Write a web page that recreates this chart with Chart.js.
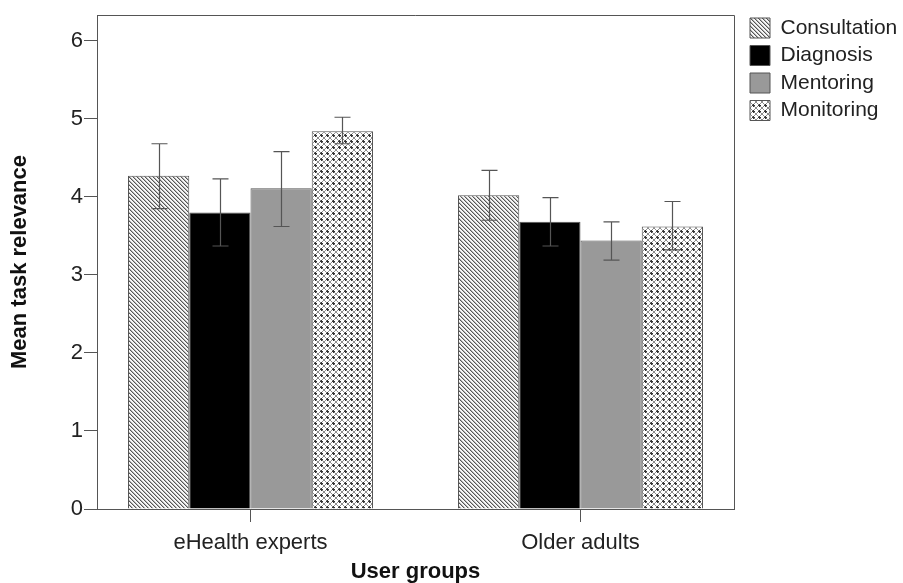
<!DOCTYPE html>
<html>
<head>
<meta charset="utf-8">
<script src="https://cdn.jsdelivr.net/npm/chart.js@4"></script>
<style>
  html, body { margin: 0; padding: 0; background: #fff; }
  #wrap { width: 903px; height: 583px; }
</style>
</head>
<body>
<div id="wrap"><canvas id="taskChart"></canvas></div>
<script>
// Groups on the x axis and their positions on the linear scale
const groups = ['eHealth experts', 'Older adults'];
const groupPos = [1, 2];
const tasks = ['Consultation', 'Diagnosis', 'Mentoring', 'Monitoring'];

// Means
const consultation = [4.27, 4.02];
const diagnosis = [3.80, 3.68];
const mentoring = [4.11, 3.44];
const monitoring = [4.84, 3.62];

// Error bar ends
const consultationLow = [3.85, 3.70];
const consultationHigh = [4.68, 4.34];
const diagnosisLow = [3.37, 3.37];
const diagnosisHigh = [4.23, 3.99];
const mentoringLow = [3.62, 3.19];
const mentoringHigh = [4.58, 3.68];
const monitoringLow = [4.68, 3.32];
const monitoringHigh = [5.02, 3.94];

const yTicks = [0, 1, 2, 3, 4, 5, 6];

Chart.defaults.font.family = '"Liberation Sans", Arial, sans-serif';

// Hatch patterns, drawn pixel by pixel so they stay crisp
function diagonalPattern() {
  const c = document.createElement('canvas');
  c.width = 4; c.height = 4;
  const g = c.getContext('2d');
  g.fillStyle = '#f6f6f6';
  g.fillRect(0, 0, 4, 4);
  for (let i = 0; i < 4; i++) {
    g.fillStyle = '#555555';
    g.fillRect(i, i, 1, 1);
    g.fillStyle = '#b4b4b4';
    g.fillRect((i + 1) % 4, i, 1, 1);
  }
  return g.createPattern(c, 'repeat');
}

function latticePattern() {
  const c = document.createElement('canvas');
  c.width = 6; c.height = 6;
  const g = c.getContext('2d');
  g.fillStyle = '#ffffff';
  g.fillRect(0, 0, 6, 6);
  g.fillStyle = '#8c8c8c';
  for (let i = 0; i < 6; i++) {
    g.fillRect(i, i, 1, 1);
    g.fillRect(5 - i, i, 1, 1);
  }
  g.fillStyle = '#333333';
  g.fillRect(2, 3, 3, 1);
  g.fillRect(3, 2, 1, 3);
  return g.createPattern(c, 'repeat');
}

const fills = [diagonalPattern(), '#000000', '#999999', latticePattern()];
const means = [consultation, diagnosis, mentoring, monitoring];
const lows = [consultationLow, diagnosisLow, mentoringLow, monitoringLow];
const highs = [consultationHigh, diagnosisHigh, mentoringHigh, monitoringHigh];

const errorBars = {
  id: 'errorBars',
  afterDatasetsDraw(chart) {
    const y = chart.scales.y;
    const ctx = chart.ctx;
    ctx.save();
    ctx.strokeStyle = '#555';
    ctx.lineWidth = 1.2;
    chart.data.datasets.forEach((ds, i) => {
      const meta = chart.getDatasetMeta(i);
      meta.data.forEach((bar, j) => {
        const x = Math.round(bar.x) + 0.5;
        const top = y.getPixelForValue(highs[i][j]);
        const bottom = y.getPixelForValue(lows[i][j]);
        ctx.beginPath();
        ctx.moveTo(x, top); ctx.lineTo(x, bottom);
        ctx.moveTo(x - 8, top); ctx.lineTo(x + 8, top);
        ctx.moveTo(x - 8, bottom); ctx.lineTo(x + 8, bottom);
        ctx.stroke();
      });
    });
    ctx.restore();
  }
};

const frame = {
  id: 'frame',
  afterDraw(chart) {
    const a = chart.chartArea;
    const ctx = chart.ctx;
    ctx.save();
    ctx.strokeStyle = '#555';
    ctx.lineWidth = 1;
    ctx.beginPath();
    ctx.moveTo(Math.round(a.left), Math.round(a.top) + 0.5);
    ctx.lineTo(Math.round(a.right) + 0.5, Math.round(a.top) + 0.5);
    ctx.lineTo(Math.round(a.right) + 0.5, Math.round(a.bottom));
    ctx.stroke();
    ctx.restore();
  }
};

new Chart(document.getElementById('taskChart'), {
  type: 'bar',
  data: {
    datasets: tasks.map((name, i) => ({
      label: name,
      data: groupPos.map((p, j) => ({ x: p, y: means[i][j] })),
      backgroundColor: fills[i],
      borderColor: '#555',
      borderWidth: 1,
      xAxisID: 'x',
      yAxisID: 'y'
    }))
  },
  options: {
    responsive: true,
    maintainAspectRatio: false,
    animation: false,
    categoryPercentage: 0.7424,
    barPercentage: 1,
    layout: { padding: { top: 11, right: 0, bottom: 0, left: 0 } },
    scales: {
      x: {
        type: 'linear',
        offset: false,
        min: 0.53485,
        max: 2.46515,
        afterBuildTicks: (s) => { s.ticks = groupPos.map((v) => ({ value: v })); },
        afterFit: (s) => { s.height = 74; },
        ticks: {
          callback: (v) => groups[groupPos.indexOf(v)],
          font: { size: 22 },
          color: '#222',
          padding: 8,
          maxRotation: 0
        },
        grid: { drawOnChartArea: false, offset: false, tickLength: 13, color: '#555' },
        border: { color: '#555' },
        title: {
          display: true,
          text: 'User groups',
          font: { size: 22, weight: 'bold' },
          color: '#111',
          padding: { top: 0, bottom: -2 }
        }
      },
      y: {
        min: 0,
        max: 6.33,
        afterBuildTicks: (s) => { s.ticks = yTicks.map((v) => ({ value: v })); },
        afterFit: (s) => { s.width = 97; },
        ticks: { font: { size: 22 }, color: '#222', padding: 1 },
        grid: { drawOnChartArea: false, tickLength: 13, color: '#555' },
        border: { color: '#555' },
        title: {
          display: true,
          text: 'Mean task relevance',
          font: { size: 22, weight: 'bold' },
          color: '#111',
          padding: { top: 7, bottom: 0 }
        }
      },
      // spacer axes, only there to nudge the plot box
      xTop: {
        type: 'linear',
        position: 'top',
        afterFit: (s) => { s.height = 4; },
        ticks: { display: false },
        grid: { display: false },
        border: { display: false }
      },
      yRight: {
        type: 'linear',
        position: 'right',
        afterFit: (s) => { s.width = 9.5; },
        ticks: { display: false },
        grid: { display: false },
        border: { display: false }
      }
    },
    plugins: {
      legend: {
        position: 'right',
        align: 'start',
        maxWidth: 159.5,
        labels: {
          boxWidth: 20,
          boxHeight: 20,
          padding: 6.5,
          font: { size: 21 },
          color: '#222'
        }
      },
      tooltip: { enabled: false }
    }
  },
  plugins: [errorBars, frame]
});
</script>
</body>
</html>
